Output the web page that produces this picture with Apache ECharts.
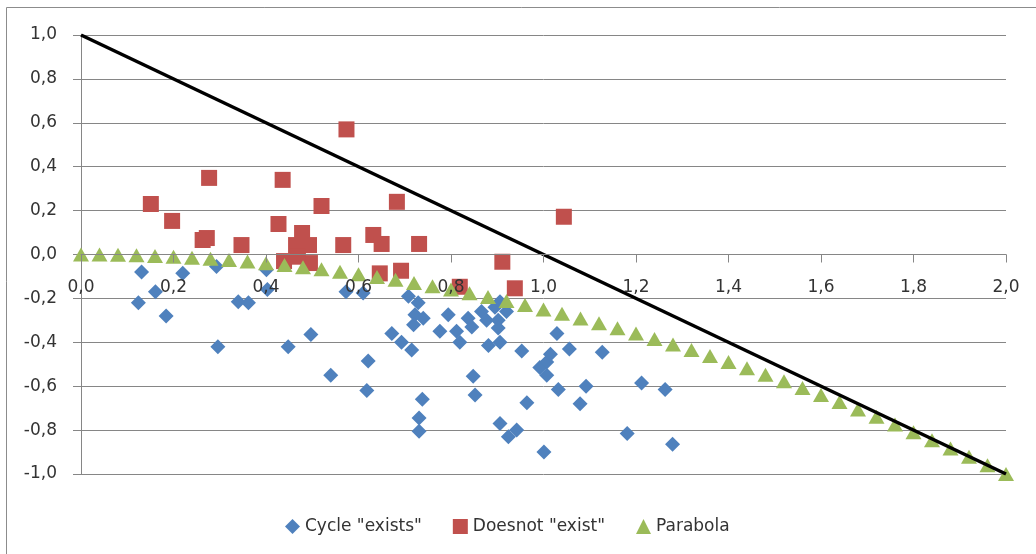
<!DOCTYPE html>
<html><head><meta charset="utf-8">
<script src="https://cdn.jsdelivr.net/npm/echarts@6/dist/echarts.min.js"></script>
<style>html,body{margin:0;padding:0;background:#fff}#c{width:1036px;height:554px}</style>
</head><body><div id="c"></div>
<script>
// Series names
const seriesNames = ['Cycle "exists"', 'Doesnot "exist"', 'Parabola'];

// Cycle "exists" (blue diamonds)
const cycleX = [0.131,0.124,0.161,0.184,0.22,0.293,0.296,0.34,0.362,0.401,0.403,0.448,0.497,0.54,0.573,0.61,0.621,0.618,0.672,0.693,0.715,0.708,0.729,0.722,0.74,0.719,0.738,0.731,0.731,0.776,0.794,0.812,0.819,0.837,0.845,0.848,0.852,0.866,0.877,0.881,0.895,0.902,0.906,0.902,0.906,0.92,0.906,0.924,0.942,0.953,0.964,1.001,0.992,1.007,1.007,1.015,1.029,1.032,1.056,1.079,1.092,1.127,1.181,1.212,1.263,1.279];
const cycleY = [-0.08,-0.22,-0.17,-0.28,-0.085,-0.055,-0.42,-0.215,-0.22,-0.07,-0.16,-0.42,-0.365,-0.55,-0.17,-0.175,-0.485,-0.62,-0.36,-0.4,-0.435,-0.19,-0.22,-0.275,-0.29,-0.32,-0.66,-0.745,-0.805,-0.35,-0.275,-0.35,-0.4,-0.29,-0.33,-0.555,-0.64,-0.26,-0.3,-0.415,-0.24,-0.3,-0.215,-0.335,-0.4,-0.26,-0.77,-0.83,-0.8,-0.44,-0.675,-0.9,-0.515,-0.49,-0.55,-0.455,-0.36,-0.615,-0.43,-0.68,-0.6,-0.445,-0.815,-0.585,-0.615,-0.865];

// Does not "exist" (red squares)
const notX = [0.151,0.197,0.263,0.272,0.277,0.347,0.427,0.436,0.52,0.478,0.465,0.493,0.439,0.495,0.469,0.567,0.574,0.683,0.632,0.65,0.731,0.646,0.692,0.911,0.819,0.938,1.044];
const notY = [0.23,0.153,0.066,0.075,0.349,0.043,0.139,0.34,0.221,0.098,0.043,0.043,-0.03,-0.039,-0.01,0.043,0.57,0.24,0.089,0.048,0.048,-0.086,-0.074,-0.033,-0.147,-0.154,0.172];

// Parabola (green triangles)
const paraX = [0,0.04,0.08,0.12,0.16,0.2,0.24,0.28,0.32,0.36,0.4,0.44,0.48,0.52,0.56,0.6,0.64,0.68,0.72,0.76,0.8,0.84,0.88,0.92,0.96,1.0,1.04,1.08,1.12,1.16,1.2,1.24,1.28,1.32,1.36,1.4,1.44,1.48,1.52,1.56,1.6,1.64,1.68,1.72,1.76,1.8,1.84,1.88,1.92,1.96,2.0];
const paraY = [0,-0.0004,-0.0016,-0.0036,-0.0064,-0.01,-0.0144,-0.0196,-0.0256,-0.0324,-0.04,-0.0484,-0.0576,-0.0676,-0.0784,-0.09,-0.1024,-0.1156,-0.1296,-0.1444,-0.16,-0.1764,-0.1936,-0.2116,-0.2304,-0.25,-0.2704,-0.2916,-0.3136,-0.3364,-0.36,-0.3844,-0.4096,-0.4356,-0.4624,-0.49,-0.5184,-0.5476,-0.5776,-0.6084,-0.64,-0.6724,-0.7056,-0.7396,-0.7744,-0.81,-0.8464,-0.8836,-0.9216,-0.9604,-1.0];

// Black straight line
const lineX = [0, 2];
const lineY = [1, -1];

// Tick labels
const xTickLabels = ['0,0','0,2','0,4','0,6','0,8','1,0','1,2','1,4','1,6','1,8','2,0'];
const yTickLabels = ['-1,0','-0,8','-0,6','-0,4','-0,2','0,0','0,2','0,4','0,6','0,8','1,0'];

const zip = (a, b) => a.map((v, i) => [v, b[i]]);
const FONT = '"DejaVu Sans", Verdana, sans-serif';
const AX = '#868686';
const GRID_TOP = 35, GRID_BOTTOM = 80, H = 554;
const plotH = H - GRID_TOP - GRID_BOTTOM;

const chart = echarts.init(document.getElementById('c'), null, {renderer: 'canvas'});
chart.setOption({
  animation: false,
  backgroundColor: '#fff',
  textStyle: {fontFamily: FONT},
  grid: {left: 81, right: 30, top: GRID_TOP, bottom: GRID_BOTTOM, containLabel: false},
  graphic: [{
    type: 'rect', silent: true, z: -1,
    shape: {x: 6.5, y: 7.5, width: 1200, height: 700},
    style: {fill: 'none', stroke: '#8c8c8c', lineWidth: 1}
  }],
  legend: {
    left: 280, top: 513,
    itemGap: 31, itemWidth: 15, itemHeight: 15,
    textStyle: {fontFamily: FONT, fontSize: 17, color: '#333'},
    data: [
      {name: seriesNames[0], icon: 'diamond'},
      {name: seriesNames[1], icon: 'rect'},
      {name: seriesNames[2], icon: 'triangle'}
    ]
  },
  xAxis: {
    type: 'value', min: 0, max: 2, interval: 0.2, z: 10,
    position: 'bottom', offset: -plotH / 2,
    axisLine: {onZero: false, lineStyle: {color: AX, width: 1}},
    axisTick: {show: true, length: 8, lineStyle: {color: AX}},
    splitLine: {show: false},
    axisLabel: {margin: 25, fontSize: 17, fontFamily: FONT, color: '#333',
      formatter: v => xTickLabels[Math.round(v / 0.2)]}
  },
  yAxis: {
    type: 'value', min: -1, max: 1, interval: 0.2,
    axisLine: {show: true, onZero: false, lineStyle: {color: AX, width: 1}},
    axisTick: {show: true, length: 8, lineStyle: {color: AX}},
    splitLine: {show: true, lineStyle: {color: AX, width: 1}},
    axisLabel: {margin: 24, fontSize: 17, fontFamily: FONT, color: '#333',
      formatter: v => yTickLabels[Math.round((v + 1) / 0.2)]}
  },
  series: [
    {name: seriesNames[0], type: 'scatter', symbol: 'diamond', symbolSize: 15, z: 2,
     itemStyle: {color: '#4F81BD', opacity: 1}, data: zip(cycleX, cycleY)},
    {name: seriesNames[1], type: 'scatter', symbol: 'rect', symbolSize: 16, z: 3,
     itemStyle: {color: '#C0504D', opacity: 1}, data: zip(notX, notY)},
    {name: seriesNames[2], type: 'scatter', symbol: 'triangle', symbolSize: [16, 14], z: 4,
     itemStyle: {color: '#9BBB59', opacity: 1}, data: zip(paraX, paraY)},
    {name: 'line', type: 'line', showSymbol: false, symbol: 'none', z: 5,
     lineStyle: {color: '#000', width: 3.5}, data: zip(lineX, lineY)}
  ]
});
</script></body></html>
